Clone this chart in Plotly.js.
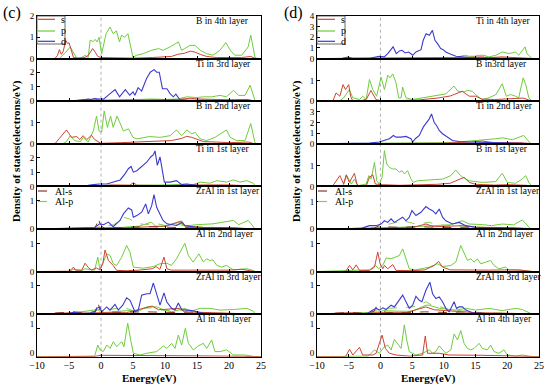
<!DOCTYPE html>
<html><head><meta charset="utf-8">
<script src="https://cdn.plot.ly/plotly-3.0.1.min.js"></script>
<style>html,body{margin:0;padding:0;background:#fff}#chart{width:550px;height:386px}</style>
</head><body><div id="chart"></div>
<script>
// ---------- categories / tick labels ----------
const energyTicks = [-10,-5,0,5,10,15,20,25];
const labelsC = ['B in 4th layer','Ti in 3rd layer','B in 2nd layer','Ti in 1st layer','ZrAl in 1st layer','Al in 2nd layer','ZrAl in 3rd layer','Al in 4th layer'];
const labelsD = ['Ti in 4th layer','B in3rd layer','Ti in 2nd layer','B in 1st layer','ZrAl in 1st layer','Al in 2nd layer','ZrAl in 3rd layer','Al in 4th layer'];
const legendSPD = ['s','p','d'];
const legendAl = ['Al-s','Al-p'];
const yTopC = [2,2.94,2,3,1.5,1.54,1.48,1.5];
const yTopD = [4,2.06,4,2.06,1.56,1.54,1.48,1.5];
const yTickC = [[0,1,2],[0,1,2],[0,1],[0,1,2],[0,1],[0,1],[0,1],[0,1]];
const yTickD = [[0,1,2,3,4],[0,1],[0,1,2,3],[0,1],[0,1],[0,1],[0,1],[0,1]];

// ---------- panel (c) series: [energy, DOS] ----------
const c1_s = [[-10,0],[-7.2,0],[-6.8,0.15],[-6.5,0.42],[-6.2,0.2],[-5.9,0.35],[-5.5,0.85],[-5.2,0.7],[-5.0,0.75],[-4.6,0.3],[-4.3,0.05],[-3.5,0.02],[-2.5,0.05],[-2.0,0.15],[-1.3,0.47],[-0.9,0.3],[-0.5,0.1],[0,0.05],[2,0.03],[5,0.02],[8,0.05],[10,0.08],[11,0.1],[12,0.2],[13,0.25],[14,0.35],[14.7,0.3],[15.5,0.2],[16.5,0.1],[18,0.05],[20,0.05],[22,0.05],[23.4,0.1],[24,0.02],[25,0]];
const c1_p = [[-10,0],[-6.5,0],[-6.2,0.1],[-5.5,0.3],[-4.8,0.55],[-4.3,0.3],[-3.8,0.02],[-3.0,0.05],[-2.5,0.15],[-2.0,0.05],[-1.7,0.86],[-1.2,0.8],[-0.9,0.9],[-0.6,0.78],[-0.3,1.0],[0.1,0.23],[0.8,1.17],[1.4,1.48],[1.9,1.17],[2.4,1.3],[2.9,0.78],[3.2,1.1],[3.7,1.0],[4.2,1.17],[4.6,0.55],[5.0,0.05],[5.5,0.15],[6.6,0.23],[7.9,0.39],[9.0,0.47],[9.7,0.39],[10.8,0.55],[12.1,0.78],[12.6,0.39],[13.1,0.47],[13.9,0.62],[14.7,0.62],[15.5,0.39],[16.5,0.23],[17.5,0.16],[18.6,0.39],[19.5,0.75],[20.2,0.39],[20.9,0.16],[22.0,0.16],[23.0,0.55],[23.4,1.1],[23.8,0.39],[24.1,0],[25,0]];

const c2_s = [[-10,0],[-5,0.02],[-2,0.12],[-1,0.15],[0,0.05],[5,0.05],[9,0.1],[12,0.12],[14,0.2],[15,0.15],[18,0.1],[20,0.1],[23,0.12],[24,0],[25,0]];
const c2_p = [[-10,0],[-4,0.03],[-2,0.08],[0,0.05],[2,0.1],[4,0.1],[6,0.12],[8,0.15],[10,0.12],[12,0.15],[13.4,0.3],[15,0.25],[16,0.3],[17.3,0.3],[18.6,0.4],[19.6,0.3],[20.7,0.75],[21.5,0.4],[22.5,0.4],[23.3,1.1],[23.8,0.4],[24.1,0],[25,0]];
const c2_d = [[-10,0],[-6,0.01],[-4,0.03],[-2.8,0.1],[-2,0.15],[-1.5,0.1],[-1,0.18],[-0.3,0.15],[0.4,0.14],[1.1,0.4],[2.2,0.8],[2.9,0.3],[3.8,0.8],[4.5,0.41],[5.0,0.64],[5.3,0.41],[5.8,0.93],[6.35,0.7],[7.1,1.55],[7.7,2.0],[8.3,2.18],[8.7,2.0],[9.1,2.0],[9.6,0.86],[10.3,0.86],[10.8,0.52],[11.3,0.3],[11.7,0.48],[12.3,0.11],[13.4,0.07],[16,0.05],[20,0.04],[24,0.02],[25,0]];

const c3_s = [[-10,0],[-7.2,0],[-6.5,0.25],[-5.9,0.46],[-5.4,0.65],[-4.6,0.3],[-3.8,0.34],[-3.3,0.2],[-2.8,0.38],[-2.2,0.2],[-1.5,0.4],[-1.0,0.2],[-0.3,0.05],[0,0.02],[3,0.05],[6,0.08],[9,0.12],[11,0.15],[12.6,0.25],[13.4,0.35],[14.2,0.3],[15,0.2],[16,0.1],[18,0.08],[20,0.05],[23,0.08],[24,0],[25,0]];
const c3_p = [[-10,0],[-6,0],[-5.4,0.1],[-4.8,0.38],[-4.1,0.15],[-3.2,0.1],[-2.8,0.3],[-2.0,0.08],[-1.2,0.6],[-0.7,1.3],[-0.3,0.6],[0.1,0.55],[0.5,1.54],[1.0,0.77],[1.5,1.3],[1.9,0.77],[2.5,1.3],[2.97,1.0],[3.5,0.6],[4.3,0.7],[5.0,0.3],[5.6,0.23],[7.6,0.34],[9.2,0.3],[10.8,0.38],[11.8,0.65],[12.6,0.38],[13.4,0.65],[14.2,0.46],[14.7,0.54],[15.5,0.23],[16.5,0.15],[17.8,0.3],[19.6,0.65],[20.2,0.3],[21.2,0.15],[22.5,0.15],[23.4,0.95],[23.9,0.15],[24.1,0],[25,0]];

const c4_s = [[-10,0],[0,0.03],[1.5,0.1],[4.5,0.08],[5.05,0.26],[5.6,0.08],[10,0.05],[14,0.1],[16,0.1],[20,0.1],[24,0],[25,0]];
const c4_p = [[-10,0],[-3,0.02],[0,0.05],[3,0.05],[6,0.08],[10,0.1],[13,0.15],[14.4,0.12],[15.5,0.3],[17,0.22],[18.1,0.4],[19.6,0.3],[20.7,0.45],[21.7,0.3],[22.8,0.4],[23.8,0.22],[24.1,0],[25,0]];
const c4_d = [[-10,0],[-4,0.02],[-2,0.07],[-1.2,0.12],[-0.2,0.17],[0.9,0.17],[1.9,0.3],[3.0,0.45],[3.75,0.88],[4.27,1.24],[4.7,1.4],[5.05,1.0],[5.6,1.1],[6.35,1.36],[7.14,1.7],[7.76,2.07],[8.2,2.24],[8.44,2.5],[8.8,1.48],[9.22,2.07],[9.58,1.24],[9.9,0.3],[10.8,0.3],[11.8,0.4],[12.6,0.12],[13.4,0.17],[15,0.08],[20,0.05],[24,0.02],[25,0]];

const c5_s = [[-10,0],[0,0.02],[5,0.05],[8,0.08],[10,0.1],[12.6,0.28],[13.2,0.1],[16,0.05],[20,0.05],[24,0],[25,0]];
const c5_p = [[-10,0],[0,0.02],[3,0.05],[6,0.1],[7.9,0.24],[8.5,0.1],[10,0.08],[12.3,0.24],[13,0.1],[15,0.15],[17.5,0.18],[20.7,0.3],[21.5,0.15],[23.0,0.3],[24.1,0],[25,0]];
const c5_d = [[-10,0],[-3,0.02],[-1,0.05],[-0.2,0.18],[0.4,0.15],[1.15,0.24],[1.9,0.08],[2.97,0.3],[3.5,0.53],[4.27,0.74],[4.8,0.67],[5.05,0.41],[5.6,0.47],[6.35,0.59],[6.98,0.88],[7.4,0.53],[7.92,0.82],[8.28,1.21],[8.7,0.76],[9.2,0.53],[9.7,0.3],[10.3,0.18],[11.8,0.12],[12.6,0.23],[13.1,0.12],[15,0.05],[20,0.03],[24,0.01],[25,0]];
const c5_als = [[-10,0],[-1,0.02],[-0.5,0.25],[-0.4,0.39],[-0.2,0.2],[0.3,0.05],[3,0.05],[7,0.08],[12,0.05],[16,0.03],[25,0]];
const c5_alp = [[-10,0],[-1,0.02],[0,0.1],[1,0.1],[2,0.15],[3.5,0.41],[4.5,0.35],[5.5,0.2],[7,0.15],[8.5,0.2],[10,0.12],[12.3,0.15],[14,0.08],[18,0.05],[25,0]];

const c6_s = [[-10,0],[-5,0.01],[-4.6,0.08],[-4.3,0.16],[-4.0,0.05],[-3.0,0.05],[-2.5,0.3],[-2.0,0.15],[-1.5,0.05],[-0.7,0.13],[-0.2,0.06],[0.3,0.3],[0.63,0.78],[1.15,0.4],[1.9,0.22],[2.45,0.04],[4,0.03],[6,0.05],[8,0.1],[8.6,0.18],[9.2,0.08],[9.84,0.52],[10.3,0.1],[11,0.05],[13,0.05],[16,0.05],[20,0.05],[22,0.08],[24,0],[25,0]];
const c6_p = [[-10,0],[-5,0],[-4.3,0.08],[-3,0.03],[-2.5,0.1],[-1,0.05],[-0.5,0.52],[-0.16,0.06],[0.26,0.28],[0.89,0.64],[1.41,0.58],[1.93,0.28],[2.45,0.22],[3.23,0.52],[4.01,0.94],[4.53,0.7],[5.05,0.16],[6.6,0.12],[8.2,0.18],[9.2,0.28],[10.3,0.3],[11.0,0.22],[11.8,0.46],[12.6,0.82],[13.1,1.02],[13.65,0.58],[14.4,0.34],[15.3,0.64],[16,0.34],[16.5,0.46],[17.0,0.4],[17.5,0.42],[18.1,0.22],[18.85,0.16],[19.6,0.22],[20.7,0.06],[22.8,0.1],[23.8,0.04],[24.1,0],[25,0]];

const c7_s = [[-10,0],[-4.3,0.05],[-2,0.03],[0,0.05],[4,0.05],[7.2,0.25],[8,0.28],[9,0.15],[12.3,0.2],[13,0.08],[16,0.05],[20,0.03],[24,0],[25,0]];
const c7_p = [[-10,0],[-5,0.02],[-0.5,0.16],[0,0.05],[2,0.08],[4,0.12],[6,0.12],[7.14,0.25],[8.7,0.25],[9.7,0.16],[11,0.08],[13.1,0.2],[14,0.1],[15.5,0.2],[17,0.2],[18.6,0.14],[20.7,0.16],[22.8,0.2],[23.8,0.1],[24.1,0],[25,0]];
const c7_d = [[-10,0],[-5,0.02],[-4.3,0.06],[-3,0.02],[-1,0.05],[-0.7,0.2],[-0.16,0.25],[0.1,0.08],[0.89,0.25],[1.41,0.14],[2.19,0.34],[2.7,0.14],[3.4,0.31],[4.01,0.57],[4.53,0.48],[5.31,0.08],[5.83,0.14],[6.35,0.66],[7.14,0.71],[7.66,0.71],[8.18,1.08],[8.7,0.66],[9.22,0.31],[9.84,0.74],[10.26,0.43],[11.04,0.2],[11.56,0.14],[12.08,0.39],[12.6,0.16],[13.4,0.14],[14.2,0.12],[16,0.03],[20,0.01],[25,0]];
const c7_als = [[-10,0],[-4.3,0.08],[-2,0.04],[-0.8,0.1],[-0.5,0.43],[-0.2,0.15],[0.5,0.08],[3,0.06],[7,0.08],[10,0.06],[14,0.04],[25,0]];
const c7_alp = [[-10,0],[-2,0.02],[-0.5,0.15],[1,0.15],[2.5,0.2],[4,0.2],[5.5,0.08],[6.5,0.2],[8,0.22],[10,0.12],[12.3,0.15],[14,0.06],[18,0.03],[25,0]];

const c8_s = [[-10,0],[-1,0.01],[0,0.05],[2,0.05],[5,0.03],[10,0.05],[15,0.03],[20,0.02],[25,0]];
const c8_p = [[-10,0],[-2,0.01],[-1,0.02],[-0.5,0.41],[-0.16,0.24],[0.36,0.18],[0.89,0.41],[1.41,0.29],[1.93,0.53],[2.45,0.35],[3.23,0.53],[3.59,0.35],[4.17,1.18],[4.64,0.59],[5.05,0.12],[6.09,0.06],[7.14,0.12],[8.7,0.18],[9.74,0.38],[10.26,0.29],[11.04,0.47],[11.56,0.29],[12.08,0.76],[12.6,0.41],[13.18,1.0],[13.65,0.47],[14.43,0.24],[15.21,0.38],[15.99,0.47],[16.51,0.29],[17.29,0.59],[17.81,0.18],[18.59,0.18],[19.64,0.24],[20.68,0.06],[22.5,0.06],[23.8,0.01],[25,0]];

// ---------- panel (d) series ----------
const d1_s = [[-10,0],[0,0.02],[10,0.05],[13,0.1],[16.1,0.16],[17,0.08],[19.2,0.16],[21,0.08],[24,0],[25,0]];
const d1_p = [[-10,0],[-4,0.02],[0,0.05],[5,0.05],[10,0.08],[12,0.1],[13.2,0.31],[14,0.22],[14.8,0.22],[15.55,0.31],[16.3,0.31],[17.1,0.16],[18.2,0.31],[19.2,0.62],[20.3,0.47],[21.3,0.62],[21.8,0.31],[22.8,1.1],[23.1,0.47],[23.9,0],[25,0]];
const d1_d = [[-10,0],[-6,0.02],[-5.1,0.15],[-4.4,0.02],[-1.7,0.02],[-0.2,0.22],[0.6,0.16],[1.15,0.47],[2.0,1.1],[2.5,0.47],[3.0,0.72],[3.4,0.78],[3.9,0.53],[4.45,0.62],[5.1,0.31],[5.6,0.62],[6.4,0.84],[6.75,1.72],[7.2,2.34],[7.7,2.19],[8.2,2.65],[8.6,1.72],[9.0,1.4],[9.5,0.94],[9.9,0.84],[10.3,0.62],[11.1,0.4],[11.9,0.22],[12.9,0.16],[14,0.1],[18,0.05],[24,0.02],[25,0]];

const d2_s = [[-10,0],[-7.5,0],[-7.0,0.4],[-6.4,0.24],[-5.9,0.8],[-5.5,0.56],[-5.0,0.8],[-4.7,0.24],[-4.35,0],[-3,0.02],[-2.2,0.1],[-1.5,0.52],[-0.7,0.08],[0,0.03],[3,0.03],[6,0.06],[9,0.15],[11,0.25],[12.9,0.48],[14,0.24],[15,0.24],[16,0.1],[18,0.08],[20,0.1],[22.5,0.15],[23.9,0],[25,0]];
const d2_p = [[-10,0],[-6.5,0],[-5.8,0.16],[-4.9,0.56],[-4.35,0.16],[-3.3,0.08],[-2.8,0.24],[-2.25,0.08],[-1.73,1.05],[-1.2,0.56],[-0.6,0.24],[0.1,1.16],[0.63,0.56],[1.15,1.26],[1.5,1.13],[1.94,1.32],[2.46,0.89],[2.88,0.16],[3.25,0.16],[3.5,0.68],[4.03,0.16],[5,0.08],[6.6,0.16],[8.7,0.27],[10.3,0.35],[11.6,0.73],[12.2,0.48],[13.2,0.45],[13.7,0.52],[14.5,0.48],[15,0.32],[16,0.08],[17.1,0.16],[18.2,0.32],[19.2,0.84],[19.84,0.24],[20.5,0.32],[21.3,0.24],[21.8,0.16],[22.5,1.13],[22.9,0.81],[23.4,0.16],[23.9,0],[25,0]];

const d3_s = [[-10,0],[0,0.02],[10,0.05],[14,0.16],[16.1,0.25],[18,0.1],[22,0.1],[24,0],[25,0]];
const d3_p = [[-10,0],[-3,0.02],[0,0.05],[5,0.08],[10,0.1],[12,0.15],[14,0.25],[16,0.31],[18.2,0.47],[19.2,0.56],[20.8,0.38],[22.6,0.78],[23.1,0.47],[23.7,0],[25,0]];
const d3_d = [[-10,0],[-5,0.05],[-1.7,0.06],[-0.2,0.16],[0.37,0.25],[1.41,0.47],[2.04,0.78],[2.46,0.62],[3.25,0.62],[4.03,0.69],[4.82,0.47],[5.08,0.16],[5.5,0.47],[6.13,0.78],[6.75,1.56],[7.28,2.0],[7.7,2.34],[8.06,2.8],[8.48,2.0],[8.85,1.72],[9.27,1.25],[9.79,0.94],[10.58,0.62],[11.36,0.31],[12.41,0.22],[14,0.16],[17,0.12],[20,0.08],[24,0.03],[25,0]];

const d4_s = [[-10,0],[-7.5,0.03],[-6.4,0.52],[-5.8,0.11],[-5.4,0.56],[-4.9,0.19],[-4.1,0.63],[-3.7,0.11],[-3.3,0],[-2.2,0.05],[-1.73,0.44],[-1.2,0.56],[-0.8,0.11],[0.37,0.08],[3,0.05],[6,0.06],[9,0.1],[11,0.15],[13.2,0.44],[14,0.19],[15,0.1],[18,0.06],[20,0.08],[23,0.05],[24,0],[25,0]];
const d4_p = [[-10,0],[-6,0.02],[-5.8,0.11],[-5.3,0.52],[-4.6,0.11],[-4.1,0.35],[-3.6,0.03],[-2.25,0.11],[-1.83,0.52],[-1.47,0.35],[-0.94,1.16],[-0.58,0.27],[-0.16,0.11],[0.26,0.44],[0.63,1.73],[0.99,1.08],[1.41,0.92],[1.94,0.84],[2.46,0.84],[2.98,0.68],[3.4,0.76],[3.77,0.6],[4.29,0.76],[4.82,0.35],[5.18,0.19],[5.86,0.27],[7.7,0.31],[9.8,0.35],[11.1,0.52],[11.88,0.79],[12.41,0.6],[12.93,0.44],[13.98,0.27],[16.07,0.19],[18.17,0.23],[19.21,0.63],[20,0.19],[21.31,0.15],[22.36,0.35],[22.88,0.52],[23.4,0.19],[23.9,0],[25,0]];

const d5_s = [[-10,0],[0,0.02],[5,0.05],[7.17,0.18],[8.5,0.08],[12.93,0.12],[15,0.06],[20,0.05],[24,0],[25,0]];
const d5_p = [[-10,0],[0,0.03],[5,0.08],[8,0.12],[11,0.15],[12.93,0.3],[14,0.18],[16.07,0.16],[17.5,0.12],[19.2,0.18],[21,0.15],[22.36,0.33],[23.14,0.12],[23.7,0],[25,0]];
const d5_d = [[-10,0],[-3,0.02],[-1.73,0.12],[-0.7,0.12],[0.1,0.18],[0.63,0.3],[1.15,0.24],[1.68,0.37],[2.2,0.24],[2.98,0.37],[3.51,0.43],[4.03,0.3],[4.55,0.43],[4.97,0.67],[5.6,0.49],[6.39,0.61],[7.17,0.82],[7.7,0.73],[8.22,0.67],[8.74,0.55],[9.27,0.73],[9.79,0.43],[10.31,0.3],[11.36,0.18],[12.41,0.24],[13.46,0.12],[15,0.06],[20,0.03],[25,0]];
const d5_als = [[-10,0],[-1,0.03],[-0.2,0.12],[0.5,0.08],[3,0.06],[6,0.08],[9,0.06],[13,0.05],[25,0]];
const d5_alp = [[-10,0],[-1,0.02],[0,0.1],[1.5,0.18],[3.51,0.3],[5.6,0.18],[7.7,0.24],[9,0.15],[11,0.12],[13,0.1],[17,0.05],[25,0]];

const d6_s = [[-10,0],[-5.5,0],[-4.87,0.22],[-4.35,0.06],[-3.82,0.24],[-3.3,0.04],[-1.7,0.04],[-0.94,0.16],[-0.42,0.7],[-0.05,0.28],[0.37,0.1],[0.63,0.22],[1.15,0.1],[1.94,0.25],[2.46,0.04],[5,0.03],[7,0.06],[8.48,0.22],[9.16,0.37],[9.79,0.16],[11,0.06],[13,0.05],[17,0.05],[20,0.06],[22,0.05],[24,0],[25,0]];
const d6_p = [[-10,0],[-5,0.02],[-1.73,0.06],[-0.79,0.22],[-0.26,0.1],[0.37,0.22],[0.89,0.49],[1.68,0.46],[2.46,0.52],[2.98,0.58],[3.51,0.82],[4.03,0.46],[4.55,0.1],[5.6,0.06],[6.65,0.1],[7.7,0.16],[9.0,0.28],[9.79,0.18],[11.1,0.22],[11.88,0.34],[12.67,0.94],[13.19,0.64],[13.72,0.4],[14.24,0.46],[14.76,0.34],[15.29,0.46],[15.81,0.28],[16.6,0.34],[17.38,0.4],[17.91,0.22],[18.69,0.1],[19.74,0.16],[20.26,0.06],[21.83,0.06],[23.9,0],[25,0]];

const d7_s = [[-10,0],[-4.9,0.05],[-3,0.02],[0,0.05],[4,0.05],[7.17,0.25],[8.5,0.15],[9.27,0.14],[12,0.1],[15,0.05],[20,0.03],[24,0],[25,0]];
const d7_p = [[-10,0],[-5,0.02],[0,0.08],[0.37,0.12],[3,0.1],[5,0.1],[7.17,0.31],[7.7,0.31],[9.27,0.2],[11.88,0.14],[13.46,0.2],[15.03,0.14],[17.12,0.2],[19.21,0.12],[21.31,0.2],[22.36,0.16],[23.9,0],[25,0]];
const d7_d = [[-10,0],[-5,0.02],[-2,0.03],[-1.2,0.14],[-0.68,0.2],[-0.16,0.14],[0.37,0.22],[0.89,0.16],[1.68,0.31],[2.2,0.25],[2.72,0.43],[3.51,0.66],[4.03,0.43],[4.55,0.2],[5.08,0.31],[5.6,0.62],[6.13,0.48],[6.54,0.43],[7.17,0.83],[7.8,1.11],[8.22,0.71],[8.74,0.54],[9.27,0.6],[9.79,0.43],[10.31,0.2],[10.84,0.08],[11.62,0.43],[11.99,0.2],[12.41,0.25],[12.93,0.25],[13.46,0.14],[14.5,0.05],[16,0.03],[20,0.01],[25,0]];
const d7_als = [[-10,0],[-4.9,0.06],[-2,0.03],[-1,0.1],[-0.68,0.25],[-0.2,0.12],[1,0.06],[4,0.05],[7,0.08],[10,0.05],[14,0.03],[25,0]];
const d7_alp = [[-10,0],[-2,0.02],[-0.5,0.15],[1,0.2],[3,0.22],[5,0.25],[6,0.3],[7.17,0.43],[8.2,0.3],[9.5,0.25],[11,0.15],[13,0.1],[16,0.05],[25,0]];

const d8_s = [[-10,0],[-5.5,0],[-4.87,0.26],[-4.35,0.06],[-3.3,0.33],[-2.8,0.06],[-1.2,0.06],[-0.68,0.12],[0.26,0.76],[0.79,0.29],[1.41,0.12],[2.46,0.06],[4.55,0.02],[6.65,0.06],[7.07,0.73],[7.43,0.12],[8.22,0.12],[9.27,0.12],[10.84,0.06],[12.93,0.06],[16,0.05],[20,0.03],[24,0],[25,0]];
const d8_p = [[-10,0],[-2,0.02],[-1.73,0.06],[-0.94,0.24],[-0.16,0.12],[0.63,0.35],[1.15,0.41],[1.68,0.24],[2.2,0.61],[2.72,0.47],[3.25,0.29],[3.77,1.12],[4.14,0.59],[4.55,0.18],[5.6,0.06],[6.65,0.12],[7.7,0.24],[8.22,0.12],[8.74,0.18],[9.27,0.38],[9.79,0.24],[10.31,0.12],[11.1,0.24],[11.62,0.8],[12.15,0.59],[12.67,0.92],[13.19,0.47],[13.72,0.29],[14.24,0.24],[14.76,0.29],[15.55,0.47],[16.07,0.29],[16.86,0.24],[17.38,0.41],[17.91,0.18],[18.69,0.12],[19.48,0.24],[20,0.06],[21.31,0.02],[22.36,0.06],[23.9,0],[25,0]];

// ---------- assemble ----------
const panelC = [
  {s:c1_s,p:c1_p},{s:c2_s,p:c2_p,d:c2_d},{s:c3_s,p:c3_p},{s:c4_s,p:c4_p,d:c4_d},
  {s:c5_s,p:c5_p,d:c5_d,als:c5_als,alp:c5_alp},{s:c6_s,p:c6_p},
  {s:c7_s,p:c7_p,d:c7_d,als:c7_als,alp:c7_alp},{s:c8_s,p:c8_p}];
const panelD = [
  {s:d1_s,p:d1_p,d:d1_d},{s:d2_s,p:d2_p},{s:d3_s,p:d3_p,d:d3_d},{s:d4_s,p:d4_p},
  {s:d5_s,p:d5_p,d:d5_d,als:d5_als,alp:d5_alp},{s:d6_s,p:d6_p},
  {s:d7_s,p:d7_p,d:d7_d,als:d7_als,alp:d7_alp},{s:d8_s,p:d8_p}];

const styles = {
  p:{color:'#6fcc3c',width:1,dash:'solid'},
  alp:{color:'#88cc55',width:1,dash:'dash'},
  s:{color:'#cc4433',width:1,dash:'solid'},
  als:{color:'#8a3a22',width:1,dash:'dash'},
  d:{color:'#3b3bcf',width:1.1,dash:'solid'}
};
const drawOrder = ['p','alp','s','als','d'];
const SERIF = '"Liberation Serif", "Times New Roman", serif';
const W = 550, H = 386;
const plotTop = 16, plotBot = 356.7, nSub = 8, hSub = (plotBot-plotTop)/nSub;
const panels = [
  {x0:37,x1:261,data:panelC,labels:labelsC,tops:yTopC,ticks:yTickC,labelX:194,tag:'(c)',tagX:12,titleX:16},
  {x0:317,x1:539,data:panelD,labels:labelsD,tops:yTopD,ticks:yTickD,labelX:474,tag:'(d)',tagX:293,titleX:296}
];
const py = v => 1 - v/H, px = v => v/W;

const traces = [], annotations = [], shapes = [];
const layout = {width:W,height:H,margin:{l:0,r:0,t:0,b:0},paper_bgcolor:'#fff',plot_bgcolor:'#fff',
  showlegend:false,font:{family:SERIF,size:9,color:'#000'}};
let k = 0;
panels.forEach((pn) => {
  let firstX = null;
  pn.data.forEach((sub,i) => {
    k++;
    const sfx = k===1 ? '' : String(k);
    const xr = 'x'+sfx, yr = 'y'+sfx;
    if (!firstX) firstX = xr;
    const top = plotTop + hSub*i;
    const bottomRow = i === nSub-1;
    layout['xaxis'+sfx] = {domain:[px(pn.x0),px(pn.x1)],anchor:yr,range:[-10,25],tickvals:energyTicks,
      showticklabels:bottomRow,ticks:'inside',ticklen:3,tickwidth:1,tickcolor:'#000',ticklabelstandoff:-1,
      showline:true,mirror:true,linecolor:'#000',linewidth:1,showgrid:false,zeroline:false,
      tickfont:{family:SERIF,size:10,color:'#000'}};
    layout['yaxis'+sfx] = {domain:[py(top+hSub),py(top)],anchor:xr,range:[0,pn.tops[i]],tickvals:pn.ticks[i],
      ticks:'inside',ticklen:3,tickwidth:1,tickcolor:'#000',showline:true,mirror:true,linecolor:'#000',linewidth:1,
      ticklabelshift:bottomRow ? -4 : 0,
      showgrid:false,zeroline:false,tickfont:{family:SERIF,size:9,color:'#000'}};
    drawOrder.forEach(key => {
      if (!sub[key]) return;
      traces.push({type:'scatter',mode:'lines',x:sub[key].map(v=>v[0]),y:sub[key].map(v=>v[1]),
        xaxis:xr,yaxis:yr,line:styles[key],hoverinfo:'skip'});
    });
    annotations.push({xref:'paper',yref:'paper',x:px(pn.labelX),y:py(top+5),xanchor:'left',yanchor:'middle',
      text:pn.labels[i],showarrow:false,font:{family:SERIF,size:9.5,color:'#000'}});
  });
  // Fermi level dotted line
  shapes.push({type:'line',xref:firstX,yref:'paper',x0:0,x1:0,y0:py(plotBot),y1:py(plotTop),
    line:{color:'#b0b0b0',width:1,dash:'dot'},layer:'below'});
  // legend s/p/d
  shapes.push({type:'rect',xref:'paper',yref:'paper',x0:px(pn.x0),x1:px(pn.x0+28),y0:py(44),y1:py(plotTop),
    line:{color:'#444',width:0.8},fillcolor:'rgba(0,0,0,0)'});
  const spdKeys = ['s','p','d'], spdY = [19.3,31,41.3];
  spdKeys.forEach((key,j) => {
    shapes.push({type:'line',xref:'paper',yref:'paper',x0:px(pn.x0+1),x1:px(pn.x0+18),y0:py(spdY[j]),y1:py(spdY[j]),
      line:{color:styles[key].color,width:1.2,dash:'solid'}});
    annotations.push({xref:'paper',yref:'paper',x:px(pn.x0+22),y:py(spdY[j]),xanchor:'left',yanchor:'middle',
      text:legendSPD[j],showarrow:false,font:{family:SERIF,size:10,color:'#000'}});
  });
  const alKeys = ['als','alp'], alY = [191,201.5];
  alKeys.forEach((key,j) => {
    shapes.push({type:'line',xref:'paper',yref:'paper',x0:px(pn.x0+1),x1:px(pn.x0+14),y0:py(alY[j]),y1:py(alY[j]),
      line:{color:styles[key].color,width:1.2,dash:'dash'}});
    annotations.push({xref:'paper',yref:'paper',x:px(pn.x0+16),y:py(alY[j]),xanchor:'left',yanchor:'middle',
      text:legendAl[j],showarrow:false,font:{family:SERIF,size:10,color:'#000'}});
  });
  // panel tag
  annotations.push({xref:'paper',yref:'paper',x:px(pn.tagX),y:py(13),xanchor:'center',yanchor:'middle',
    text:pn.tag,showarrow:false,font:{family:SERIF,size:16,color:'#000'}});
  // axis titles
  annotations.push({xref:'paper',yref:'paper',x:px(pn.titleX),y:py(151),xanchor:'center',yanchor:'middle',textangle:-90,
    text:'<b>Density of states(electrons/eV)</b>',showarrow:false,font:{family:SERIF,size:11,color:'#000'}});
  annotations.push({xref:'paper',yref:'paper',x:px((pn.x0+pn.x1)/2),y:py(378.5),xanchor:'center',yanchor:'middle',
    text:'<b>Energy(eV)</b>',showarrow:false,font:{family:SERIF,size:11,color:'#000'}});
});
layout.annotations = annotations;
layout.shapes = shapes;
Plotly.newPlot('chart', traces, layout, {staticPlot:true,displayModeBar:false});
</script></body></html>
